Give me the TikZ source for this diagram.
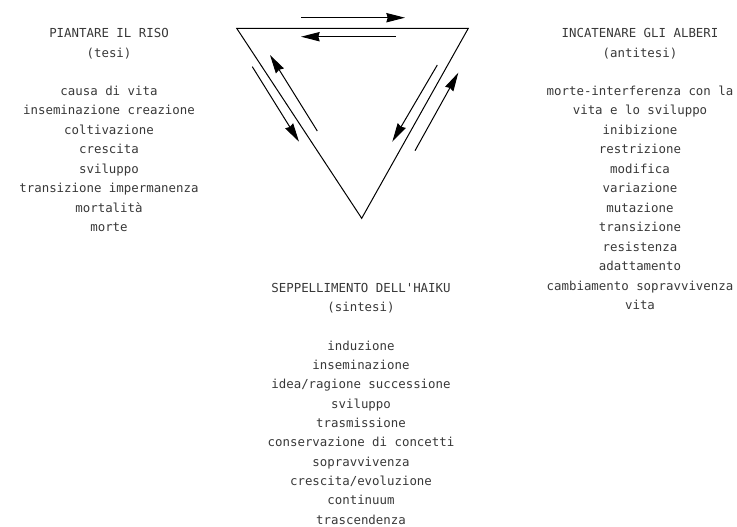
\documentclass[tikz,border=0pt]{standalone}
\usepackage{fontspec}
\setmonofont{DejaVu Sans Mono}
\usetikzlibrary{arrows.meta}
\begin{document}
\begin{tikzpicture}[x=0.75pt,y=-0.75pt,
  lbl/.style={font=\ttfamily\fontsize{9.3pt}{11pt}\selectfont, text=black!78, anchor=base, inner sep=0pt},
  edge/.style={line width=0.75pt, black},
  arr/.style={line width=0.75pt, black, -{Stealth[length=14pt,width=7pt,inset=1pt]}}]
\useasboundingbox (0,0) rectangle (737,526);
% triangle
\coordinate (A) at (236.7,28.3);
\coordinate (B) at (468.3,28.3);
\coordinate (C) at (361.7,218.3);
\draw[edge, line join=miter] (A) -- (B) -- (C) -- cycle;
% arrows
\coordinate (t1s) at (301,17.7);   \coordinate (t1e) at (405,17.7);
\coordinate (t2s) at (395.7,36.7); \coordinate (t2e) at (301,36.7);
\coordinate (l1s) at (252.3,66.7); \coordinate (l1e) at (299,141.7);
\coordinate (l2s) at (317.3,131);  \coordinate (l2e) at (270,55);
\coordinate (r1s) at (437.3,65);   \coordinate (r1e) at (392.3,141.7);
\coordinate (r2s) at (415,150.7);  \coordinate (r2e) at (458.3,72.7);
\draw[arr] (t1s) -- (t1e);
\draw[arr] (t2s) -- (t2e);
\draw[arr] (l1s) -- (l1e);
\draw[arr] (l2s) -- (l2e);
\draw[arr] (r1s) -- (r1e);
\draw[arr] (r2s) -- (r2e);
% left column
\node[lbl] (lt) at (109,37.5) {PIANTARE IL RISO};
\node[lbl] (ls) at (109,57) {(tesi)};
\foreach \t [count=\i from 0] in {causa di vita,inseminazione creazione,coltivazione,crescita,sviluppo,transizione impermanenza,mortalità,morte}
  \node[lbl] (l\i) at (109,{95.5+19.45*\i}) {\t};
% right column
\node[lbl] (rt) at (640,37.5) {INCATENARE GLI ALBERI};
\node[lbl] (rs) at (640,57) {(antitesi)};
\foreach \t [count=\i from 0] in {morte-interferenza con la,vita e lo sviluppo,inibizione,restrizione,modifica,variazione,mutazione,transizione,resistenza,adattamento,cambiamento sopravvivenza,vita}
  \node[lbl] (r\i) at (640,{95.5+19.45*\i}) {\t};
% bottom column
\node[lbl] (bt) at (361,292) {SEPPELLIMENTO DELL'HAIKU};
\node[lbl] (bs) at (361,311) {(sintesi)};
\foreach \t [count=\i from 0] in {induzione,inseminazione,idea/ragione successione,sviluppo,trasmissione,conservazione di concetti,sopravvivenza,crescita/evoluzione,continuum,trascendenza}
  \node[lbl] (b\i) at (361,{350+19.35*\i}) {\t};
\end{tikzpicture}
\end{document}
